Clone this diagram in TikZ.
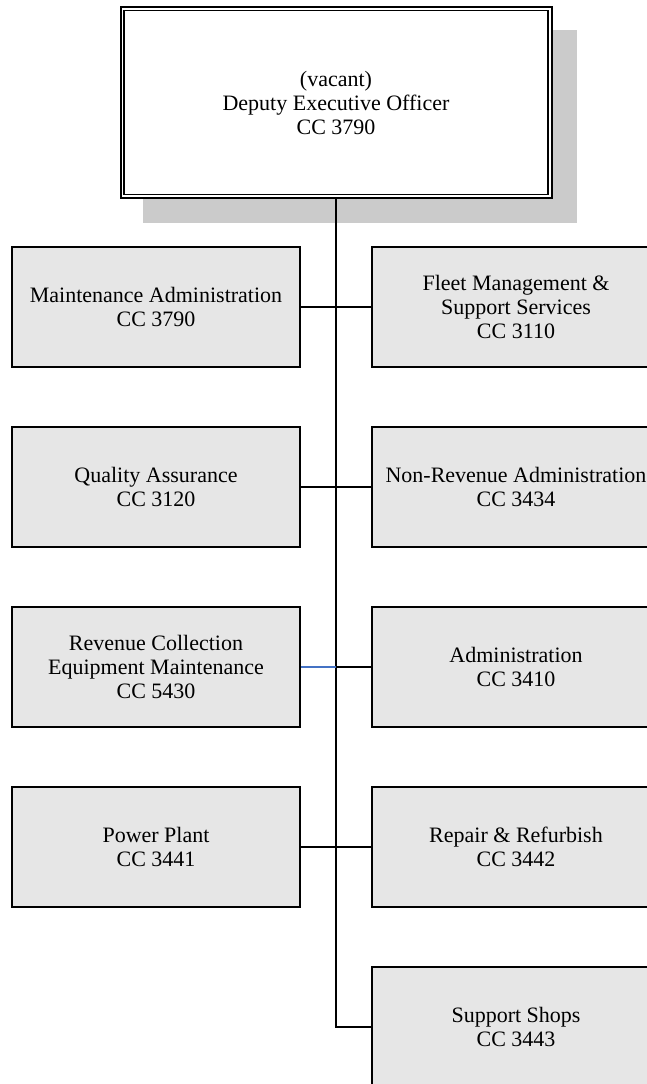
\documentclass[tikz,border=0pt]{standalone}
\usepackage{fontspec}
\setmainfont{Liberation Serif}
\definecolor{boxfill}{HTML}{E6E6E6}
\definecolor{shadowgray}{HTML}{CBCBCB}
\definecolor{linkblue}{HTML}{4472C4}
\begin{document}
\begin{tikzpicture}[x=1pt,y=-1pt,
  unitbox/.style={draw=black,line width=2pt,fill=boxfill,minimum width=288pt,minimum height=120pt,
    inner sep=0pt,align=center,font=\fontsize{22}{24}\selectfont},
  headbox/.style={draw=black,line width=2pt,fill=white,minimum width=431pt,minimum height=191pt,
    inner sep=0pt,align=center,font=\fontsize{22}{24}\selectfont},
  link/.style={draw=black,line width=1.4pt}]
\useasboundingbox (0,0) rectangle (646,1084);
\fill[white] (0,0) rectangle (646,1084);
% shadow of head box
\fill[shadowgray] (143.3,30) rectangle (576.7,222.7);
\node[headbox] (head) at (336,102.7) {(vacant)\\Deputy Executive Officer\\CC 3790};
\draw[line width=1.3pt] ([shift={(4.5,4.5)}]head.north west) rectangle ([shift={(-4.5,-4.5)}]head.south east);

\node[unitbox] (l1) at (156,307) {Maintenance Administration\\CC 3790};
\node[unitbox] (r1) at (516,307) {Fleet Management \&\\Support Services\\CC 3110};
\node[unitbox] (l2) at (156,487) {Quality Assurance\\CC 3120};
\node[unitbox] (r2) at (516,487) {Non-Revenue Administration\\CC 3434};
\node[unitbox] (l3) at (156,667) {Revenue Collection\\Equipment Maintenance\\CC 5430};
\node[unitbox] (r3) at (516,667) {Administration\\CC 3410};
\node[unitbox] (l4) at (156,847) {Power Plant\\CC 3441};
\node[unitbox] (r4) at (516,847) {Repair \& Refurbish\\CC 3442};
\node[unitbox] (r5) at (516,1027) {Support Shops\\CC 3443};

\coordinate (spineend) at (head.south |- r5.west);
\coordinate (j3) at (head.south |- l3.east);
\draw[link] (head.south) -- (spineend) -- (r5.west);
\draw[link] (l1.east) -- (r1.west);
\draw[link] (l2.east) -- (r2.west);
\draw[link,draw=linkblue] (l3.east) -- (j3);
\draw[link] (j3) -- (r3.west);
\draw[link] (l4.east) -- (r4.west);
\end{tikzpicture}
\end{document}
